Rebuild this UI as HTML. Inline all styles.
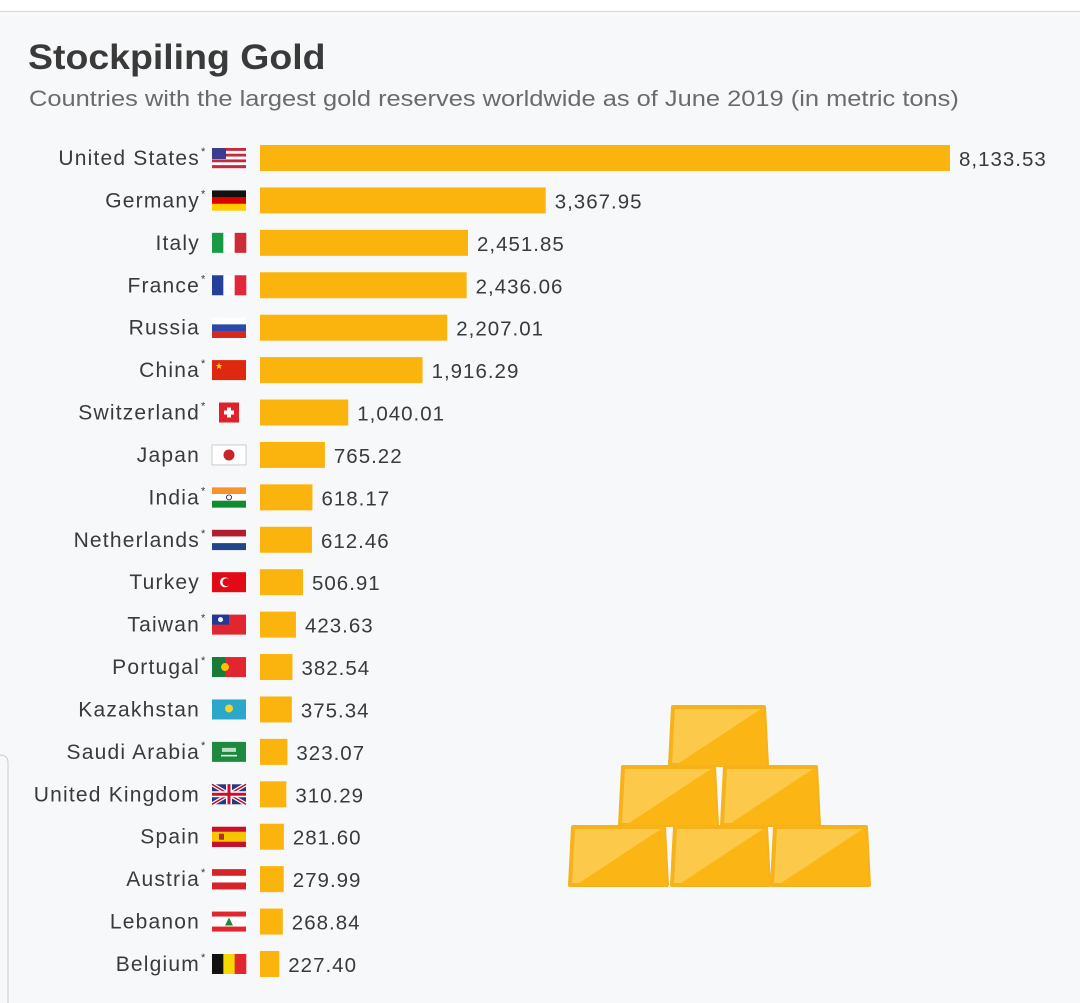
<!DOCTYPE html>
<html><head><meta charset="utf-8"><style>
body{margin:0;width:1080px;height:1003px;background:#f7f8f9;font-family:"Liberation Sans",sans-serif;overflow:hidden;position:relative}
#top{position:absolute;left:0;top:0;width:1080px;height:11px;background:#fff;border-bottom:1px solid #d8d8d8}
#title{position:absolute;left:28px;top:38px;font-size:35px;font-weight:bold;color:#3a3a3a;transform:scaleX(1.07);transform-origin:0 0}
#sub{position:absolute;left:29px;top:86px;font-size:22.5px;color:#6b6b6b;white-space:nowrap;transform:scaleX(1.13);transform-origin:0 0}
svg{position:absolute;left:0;top:0}
</style></head><body>
<div id="top"></div>
<div id="title">Stockpiling Gold</div>
<div id="sub">Countries with the largest gold reserves worldwide as of June 2019 (in metric tons)</div>
<svg id="chart" width="1080" height="1003"></svg>
<script>
const countries=["United States","Germany","Italy","France","Russia","China","Switzerland","Japan","India","Netherlands","Turkey","Taiwan","Portugal","Kazakhstan","Saudi Arabia","United Kingdom","Spain","Austria","Lebanon","Belgium"];
const values=[8133.53,3367.95,2451.85,2436.06,2207.01,1916.29,1040.01,765.22,618.17,612.46,506.91,423.63,382.54,375.34,323.07,310.29,281.60,279.99,268.84,227.40];
const starred=[1,1,0,1,0,1,1,0,1,1,0,1,1,0,1,0,0,1,0,1];
const valueLabels=["8,133.53","3,367.95","2,451.85","2,436.06","2,207.01","1,916.29","1,040.01","765.22","618.17","612.46","506.91","423.63","382.54","375.34","323.07","310.29","281.60","279.99","268.84","227.40"];
const flagCodes=["us","de","it","fr","ru","cn","ch","jp","in","nl","tr","tw","pt","kz","sa","gb","es","at","lb","be"];

const NS="http://www.w3.org/2000/svg";
const svg=document.getElementById('chart');
const x0=260, maxW=690, maxV=8133.53;
const x=v=>x0+v/maxV*maxW;
const y=i=>158+i*42.42;
function el(t,a,p){const e=document.createElementNS(NS,t);for(const k in a)e.setAttribute(k,a[k]);(p||svg).appendChild(e);return e;}
function flag(code,g){
 const W=34,H=20;
 const stripesH=c=>c.forEach((col,k)=>el('rect',{x:0,y:k*H/c.length,width:W,height:H/c.length+0.3,fill:col},g));
 const stripesV=c=>c.forEach((col,k)=>el('rect',{x:k*W/c.length,y:0,width:W/c.length+0.3,height:H,fill:col},g));
 switch(code){
 case"us":for(let k=0;k<7;k++)el('rect',{x:0,y:k*H/7,width:W,height:H/7+0.2,fill:k%2?"#fff":"#c8283c"},g);el('rect',{x:0,y:0,width:14,height:11,fill:"#3c3b8e"},g);break;
 case"de":stripesH(["#111","#d00","#fc0"]);break;
 case"it":stripesV(["#189a47","#fff","#cd2b37"]);break;
 case"fr":stripesV(["#23409a","#fff","#e1273a"]);break;
 case"ru":stripesH(["#fff","#2a49a8","#d52b1e"]);break;
 case"cn":el('rect',{width:W,height:H,fill:"#de2910"},g);el('text',{x:3,y:9,fill:"#ffde00","font-size":9},g).textContent="★";break;
 case"ch":el('rect',{x:7,width:20,height:H,fill:"#e0202a"},g);el('rect',{x:15,y:5,width:4,height:10,fill:"#fff"},g);el('rect',{x:12,y:8,width:10,height:4,fill:"#fff"},g);break;
 case"jp":el('rect',{width:W,height:H,fill:"#fff",stroke:"#ccc"},g);el('circle',{cx:17,cy:10,r:5.5,fill:"#c9252c"},g);break;
 case"in":stripesH(["#f7932e","#fff","#128a32"]);el('circle',{cx:17,cy:10,r:2.5,fill:"none",stroke:"#008",'stroke-width':0.8},g);break;
 case"nl":stripesH(["#b31e2e","#fff","#21468b"]);break;
 case"tr":el('rect',{width:W,height:H,fill:"#e30a17"},g);el('circle',{cx:13,cy:10,r:5,fill:"#fff"},g);el('circle',{cx:14.5,cy:10,r:4,fill:"#e30a17"},g);break;
 case"tw":el('rect',{width:W,height:H,fill:"#e1262f"},g);el('rect',{width:17,height:10,fill:"#1f3b97"},g);el('circle',{cx:8.5,cy:5,r:2.5,fill:"#fff"},g);break;
 case"pt":el('rect',{width:W,height:H,fill:"#e1262f"},g);el('rect',{width:13,height:H,fill:"#1a7a38"},g);el('circle',{cx:13,cy:10,r:4,fill:"#f5c400"},g);break;
 case"kz":el('rect',{width:W,height:H,fill:"#2aa7c9"},g);el('circle',{cx:17,cy:9,r:4,fill:"#f6d32a"},g);break;
 case"sa":el('rect',{width:W,height:H,fill:"#1e8a3f"},g);el('rect',{x:9,y:13,width:16,height:1.5,fill:"#fff"},g);el('rect',{x:10,y:6,width:14,height:4,fill:"#bfe0c8"},g);break;
 case"gb":el('rect',{width:W,height:H,fill:"#24397f"},g);el('path',{d:"M0 0L34 20M34 0L0 20",stroke:"#fff","stroke-width":4},g);el('path',{d:"M0 0L34 20M34 0L0 20",stroke:"#c8102e","stroke-width":1.5},g);el('path',{d:"M17 0V20M0 10H34",stroke:"#fff","stroke-width":6},g);el('path',{d:"M17 0V20M0 10H34",stroke:"#c8102e","stroke-width":3},g);break;
 case"es":stripesH(["#c8102e","#f6c500","#f6c500","#c8102e"]);el('rect',{x:7,y:7,width:5,height:6,fill:"#b03020"},g);break;
 case"at":stripesH(["#d8232a","#fff","#d8232a"]);break;
 case"lb":el('rect',{width:W,height:H,fill:"#fff"},g);el('rect',{width:W,height:5,fill:"#e1262f"},g);el('rect',{y:15,width:W,height:5,fill:"#e1262f"},g);el('path',{d:"M17 6L21 14H13Z",fill:"#1a8a3a"},g);break;
 case"be":stripesV(["#111","#f6d800","#e1262f"]);break;
 }
}
countries.forEach((c,i)=>{
 const cy=y(i);
 const lab=el('text',{x:200,y:cy+7,'text-anchor':'end','font-size':21,'letter-spacing':1.2,fill:'#3a3a3a'});
 lab.textContent=c;
 
 
 if(starred[i]){const s=el('text',{x:201,y:cy-3,'font-size':11,fill:'#3a3a3a'});s.textContent='*';}
 const g=el('g',{transform:`translate(212,${cy-10})`});
 
 
 flag(flagCodes[i],g);
 const b=el('rect',{x:x0,y:cy-13,width:x(values[i])-x0,height:26,fill:'#fbb40e'});
 
 
 const v=el('text',{x:x(values[i])+9,y:cy+8,'font-size':20.5,'letter-spacing':1,fill:'#3a3a3a'});
 v.textContent=valueLabels[i];
 
 
});
const ill=el('g',{});


[[670,707],[620,767],[722,767],[570,827],[672,827],[772,827]].forEach(p=>{
 const [bx,by]=p,w=97,h=58;
 el('path',{d:`M${bx+3} ${by} H${bx+w-3} L${bx+w} ${by+h} H${bx} Z`,fill:'#fcc94a',stroke:'#f5b21a','stroke-width':4,'stroke-linejoin':'round'},ill);
 el('path',{d:`M${bx+w-3} ${by} L${bx+w} ${by+h} H${bx+6} Z`,fill:'#fbb515'},ill);
});
el('path',{d:"M0 755 Q8 755 8 763 V1003",fill:'none',stroke:'#ccc','stroke-width':1});
</script>
</body></html>
